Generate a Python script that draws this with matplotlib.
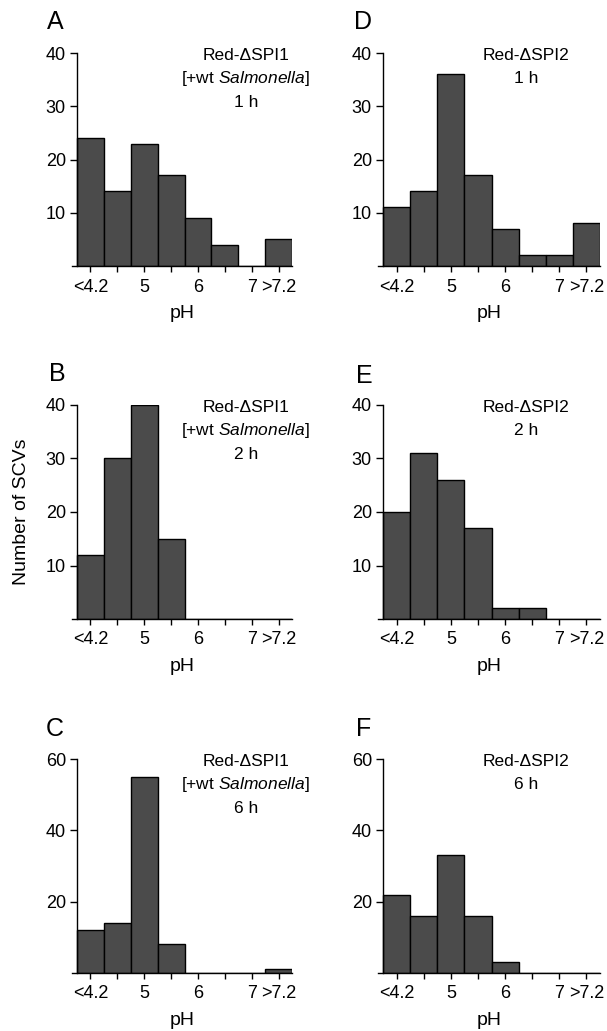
import matplotlib
matplotlib.use("Agg")
import matplotlib.pyplot as plt

plt.rcParams['font.family'] = ['Liberation Sans', 'DejaVu Sans']
plt.rcParams['mathtext.fontset'] = 'custom'
plt.rcParams['mathtext.rm'] = 'Liberation Sans'
plt.rcParams['mathtext.it'] = 'Liberation Sans:italic'

# pH bins (8 categories)
bins = ["<4.2", "4.5", "5", "5.5", "6", "6.5", "7", ">7.2"]
shown_labels = ["<4.2", "", "5", "", "6", "", "7", ">7.2"]

counts_A = [24, 14, 23, 17, 9, 4, 0, 5]
counts_B = [12, 30, 40, 15, 0, 0, 0, 0]
counts_C = [12, 14, 55, 8, 0, 0, 0, 1]
counts_D = [11, 14, 36, 17, 7, 2, 2, 8]
counts_E = [20, 31, 26, 17, 2, 2, 0, 0]
counts_F = [22, 16, 33, 16, 3, 0, 0, 0]

yticks_40 = [10, 20, 30, 40]
yticks_60 = [20, 40, 60]

ann_spi1 = ["Red-\u0394SPI1", "[+wt $\\mathit{Salmonella}$]"]
ann_spi2 = ["Red-\u0394SPI2"]

panels = [
    ("A", counts_A, yticks_40, ann_spi1 + ["1 h"], 0),
    ("B", counts_B, yticks_40, ann_spi1 + ["2 h"], 0),
    ("C", counts_C, yticks_60, ann_spi1 + ["6 h"], 0),
    ("D", counts_D, yticks_40, ann_spi2 + ["1 h"], 1),
    ("E", counts_E, yticks_40, ann_spi2 + ["2 h"], 1),
    ("F", counts_F, yticks_60, ann_spi2 + ["6 h"], 1),
]

W, H = 607, 1031
fig = plt.figure(figsize=(W / 100, H / 100), dpi=100)

col_x = {0: (72, 220), 1: (378, 222)}
row_y = [(53, 266), (405, 619), (759, 973)]
letter_pos = {"A": (55, 22), "B": (57, 374), "C": (55, 729),
              "D": (363, 22), "E": (364, 376), "F": (364, 729)}
ann_xc = {0: 0.79, 1: 0.667}

bar_color = "#4b4b4b"
fs = 13
fs_ann = 12.5

for i, (letter, counts, yt, ann, col) in enumerate(panels):
    row = i % 3
    x0, w = col_x[col]
    top, bot = row_y[row]
    ax = fig.add_axes([x0 / W, 1 - bot / H, w / W, (bot - top) / H])
    xs = list(range(len(bins)))
    ax.bar(xs, counts, width=1.0, color=bar_color, edgecolor="black",
           linewidth=1.0, zorder=2)
    ax.set_xlim(-0.687, 7.5)
    ax.set_ylim(0, yt[-1])
    ax.spines['top'].set_visible(False)
    ax.spines['right'].set_visible(False)
    ax.spines['left'].set_position(('data', -0.5))
    for s in ('left', 'bottom'):
        ax.spines[s].set_linewidth(1.0)
    ax.set_xticks(xs)
    ax.set_xticklabels(shown_labels, fontsize=fs)
    ax.set_yticks(yt)
    ax.set_yticklabels([str(v) for v in yt], fontsize=fs)
    ax.tick_params(axis='x', direction='out', length=4, width=1, pad=5)
    ax.tick_params(axis='y', direction='out', length=5, width=1, pad=3)
    ax.set_xlabel("pH", fontsize=14, labelpad=7)
    for j, line in enumerate(ann):
        ax.annotate(line, xy=(ann_xc[col], 1.0), xycoords='axes fraction',
                    xytext=(0, -1.5 - j * 17), textcoords='offset points',
                    ha='center', va='center', fontsize=fs_ann,
                    annotation_clip=False)
    lx, ly = letter_pos[letter]
    fig.text(lx / W, 1 - ly / H, letter, fontsize=18, ha='center', va='center')

fig.text(22 / W, 1 - 512 / H, "Number of SCVs", rotation=90, fontsize=14,
         ha='center', va='center')

fig.savefig("out.png", dpi=100)
